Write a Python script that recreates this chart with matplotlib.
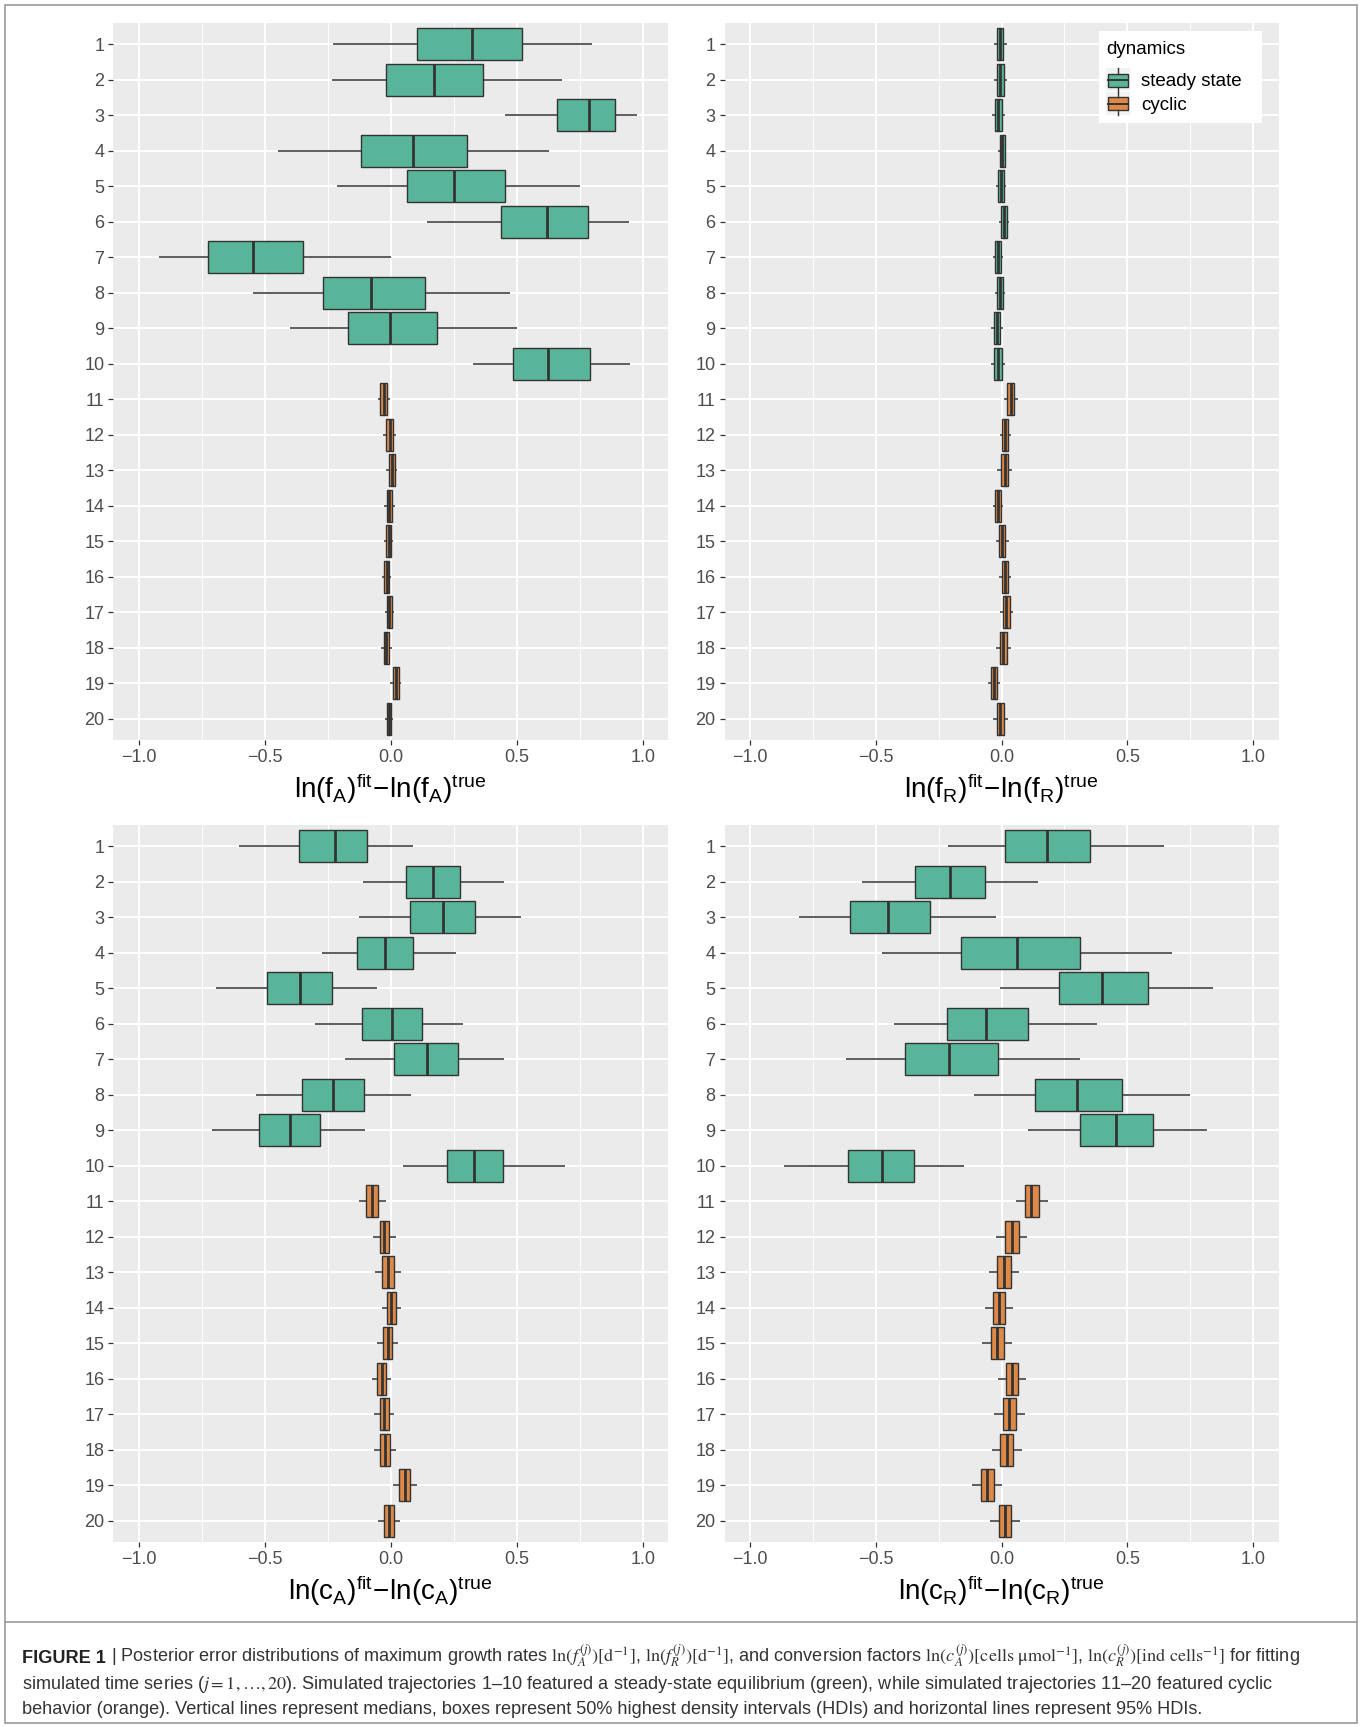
import matplotlib
matplotlib.use("Agg")
import matplotlib.pyplot as plt
from matplotlib.patches import Rectangle
from matplotlib.lines import Line2D

# ---------------- data ----------------
trajectories = list(range(1, 21))
dynamics = ["steady state"] * 10 + ["cyclic"] * 10

# panel fA
fA_med = [0.323, 0.170, 0.786, 0.090, 0.251, 0.620, -0.545, -0.078, -0.001, 0.625,
          -0.028, -0.004, 0.004, -0.005, -0.008, -0.016, -0.005, -0.017, 0.020, -0.007]
fA_q_lo = [0.103, -0.019, 0.660, -0.118, 0.064, 0.438, -0.724, -0.269, -0.168, 0.485,
           -0.041, -0.017, -0.008, -0.016, -0.017, -0.025, -0.016, -0.028, 0.008, -0.015]
fA_q_hi = [0.521, 0.365, 0.888, 0.302, 0.452, 0.784, -0.347, 0.136, 0.184, 0.790,
           -0.015, 0.009, 0.016, 0.007, 0.003, -0.005, 0.005, -0.005, 0.032, 0.003]
fA_lo = [-0.229, -0.233, 0.455, -0.446, -0.211, 0.144, -0.918, -0.547, -0.399, 0.327,
         -0.051, -0.029, -0.020, -0.026, -0.025, -0.033, -0.024, -0.040, -0.003, -0.021]
fA_hi = [0.797, 0.679, 0.977, 0.628, 0.750, 0.947, 0.001, 0.474, 0.502, 0.949,
         -0.001, 0.021, 0.026, 0.017, 0.011, 0.003, 0.013, 0.007, 0.041, 0.008]

# panel fR
fR_med = [-0.006, -0.005, -0.012, 0.003, -0.003, 0.009, -0.013, -0.006, -0.018, -0.014,
          0.037, 0.015, 0.013, -0.014, 0.002, 0.014, 0.019, 0.007, -0.031, -0.005]
fR_q_lo = [-0.018, -0.017, -0.025, -0.006, -0.014, -0.002, -0.025, -0.017, -0.031, -0.028,
           0.023, 0.003, -0.002, -0.025, -0.010, 0.002, 0.006, -0.007, -0.043, -0.018]
fR_q_hi = [0.007, 0.009, 0.001, 0.013, 0.009, 0.020, -0.002, 0.005, -0.005, 0.001,
           0.051, 0.027, 0.027, -0.002, 0.015, 0.027, 0.033, 0.022, -0.018, 0.010]
fR_lo = [-0.030, -0.028, -0.036, -0.014, -0.023, -0.011, -0.034, -0.025, -0.042, -0.042,
         0.010, -0.006, -0.017, -0.033, -0.022, -0.009, -0.006, -0.022, -0.055, -0.033]
fR_hi = [0.020, 0.022, 0.013, 0.018, 0.018, 0.030, 0.007, 0.014, 0.007, 0.015,
         0.066, 0.036, 0.042, 0.007, 0.028, 0.038, 0.045, 0.036, -0.006, 0.026]

# panel cA
cA_med = [-0.222, 0.166, 0.207, -0.024, -0.360, 0.006, 0.143, -0.230, -0.401, 0.330,
          -0.073, -0.025, -0.010, 0.003, -0.012, -0.036, -0.026, -0.022, 0.055, -0.007]
cA_q_lo = [-0.362, 0.060, 0.075, -0.132, -0.492, -0.114, 0.012, -0.353, -0.523, 0.222,
           -0.096, -0.044, -0.033, -0.015, -0.029, -0.053, -0.044, -0.042, 0.035, -0.025]
cA_q_hi = [-0.094, 0.277, 0.335, 0.087, -0.234, 0.123, 0.269, -0.105, -0.279, 0.444,
           -0.050, -0.006, 0.012, 0.021, 0.006, -0.019, -0.007, -0.004, 0.076, 0.012]
cA_lo = [-0.603, -0.111, -0.125, -0.274, -0.694, -0.299, -0.182, -0.536, -0.710, 0.050,
         -0.125, -0.069, -0.064, -0.036, -0.053, -0.075, -0.068, -0.065, 0.008, -0.050]
cA_hi = [0.089, 0.448, 0.516, 0.261, -0.054, 0.288, 0.449, 0.082, -0.101, 0.692,
         -0.019, 0.021, 0.043, 0.043, 0.028, 0.003, 0.015, 0.021, 0.103, 0.036]

# panel cR
cR_med = [0.182, -0.203, -0.450, 0.061, 0.398, -0.062, -0.208, 0.300, 0.454, -0.473,
          0.119, 0.040, 0.010, -0.010, -0.018, 0.040, 0.031, 0.021, -0.057, 0.012]
cR_q_lo = [0.012, -0.343, -0.602, -0.162, 0.229, -0.215, -0.383, 0.133, 0.312, -0.608,
           0.093, 0.014, -0.017, -0.033, -0.043, 0.017, 0.006, -0.006, -0.083, -0.011]
cR_q_hi = [0.353, -0.064, -0.285, 0.311, 0.580, 0.104, -0.012, 0.480, 0.601, -0.348,
           0.147, 0.068, 0.036, 0.014, 0.008, 0.065, 0.058, 0.046, -0.031, 0.039]
cR_lo = [-0.214, -0.554, -0.805, -0.476, -0.004, -0.426, -0.616, -0.108, 0.104, -0.863,
         0.057, -0.021, -0.051, -0.067, -0.076, -0.015, -0.031, -0.039, -0.117, -0.044]
cR_hi = [0.647, 0.143, -0.022, 0.679, 0.840, 0.378, 0.311, 0.748, 0.817, -0.149,
         0.185, 0.103, 0.069, 0.046, 0.042, 0.097, 0.093, 0.080, 0.003, 0.074]

x_ticks = [-1.0, -0.5, 0.0, 0.5, 1.0]
x_tick_labels = ["\u22121.0", "\u22120.5", "0.0", "0.5", "1.0"]
x_labels = [r"$\mathrm{ln(f_A)^{fit}\!-\!ln(f_A)^{true}}$",
            r"$\mathrm{ln(f_R)^{fit}\!-\!ln(f_R)^{true}}$",
            r"$\mathrm{ln(c_A)^{fit}\!-\!ln(c_A)^{true}}$",
            r"$\mathrm{ln(c_R)^{fit}\!-\!ln(c_R)^{true}}$"]
legend_title = "dynamics"
legend_labels = ["steady state", "cyclic"]

colors = {"steady state": "#59B59A", "cyclic": "#DE8948"}
edge = "#333333"

# ---------------- figure ----------------
W, H = 1363, 1727
plt.rcParams["font.family"] = ["Liberation Sans", "DejaVu Sans"]
plt.rcParams["mathtext.fontset"] = "custom"
plt.rcParams["mathtext.rm"] = "Liberation Sans"
plt.rcParams["mathtext.it"] = "Liberation Sans:italic"
plt.rcParams["mathtext.bf"] = "Liberation Sans:bold"

fig = plt.figure(figsize=(W / 100, H / 100), dpi=100)
fig.patch.set_facecolor("white")


def fx(x):
    return x / W


def fy(y):
    return 1 - y / H


# axes rectangles in pixel coords (left, top, right, bottom)
rects = [(113.3, 22.7, 668.0, 740.3), (724.5, 22.7, 1278.5, 740.3),
         (113.3, 824.7, 668.0, 1542.2), (724.5, 824.7, 1278.5, 1542.2)]

panels = [
    (fA_med, fA_q_lo, fA_q_hi, fA_lo, fA_hi),
    (fR_med, fR_q_lo, fR_q_hi, fR_lo, fR_hi),
    (cA_med, cA_q_lo, cA_q_hi, cA_lo, cA_hi),
    (cR_med, cR_q_lo, cR_q_hi, cR_lo, cR_hi),
]

bw = 0.9
for k, (rect, data) in enumerate(zip(rects, panels)):
    l, t, r, b = rect
    ax = fig.add_axes([fx(l), fy(b), (r - l) / W, (b - t) / H])
    ax.set_facecolor("#EBEBEB")
    for s in ax.spines.values():
        s.set_visible(False)
    ax.set_xlim(-1.1, 1.1)
    ax.set_ylim(20.6, 0.4)
    ax.set_xticks(x_ticks)
    ax.set_xticklabels(x_tick_labels)
    ax.set_xticks([-0.75, -0.25, 0.25, 0.75], minor=True)
    ax.set_yticks(trajectories)
    ax.set_yticklabels([str(v) for v in trajectories])
    ax.grid(True, which="major", color="white", linewidth=1.4, zorder=0)
    ax.grid(True, which="minor", axis="x", color="white", linewidth=0.7, zorder=0)
    ax.set_axisbelow(True)
    ax.tick_params(axis="both", which="major", direction="out", length=3.5, width=0.9,
                   color="#333333", labelcolor="#4D4D4D", labelsize=13, pad=3)
    ax.tick_params(axis="both", which="minor", length=0)

    med, qlo, qhi, lo, hi = data
    for i, y in enumerate(trajectories):
        c = colors[dynamics[i]]
        ax.plot([lo[i], qlo[i]], [y, y], color=edge, lw=1.1, zorder=2, solid_capstyle="butt")
        ax.plot([qhi[i], hi[i]], [y, y], color=edge, lw=1.1, zorder=2, solid_capstyle="butt")
        ax.add_patch(Rectangle((qlo[i], y - bw / 2), qhi[i] - qlo[i], bw,
                               facecolor=c, edgecolor=edge, linewidth=1.0, zorder=3))
        ax.plot([med[i], med[i]], [y - bw / 2, y + bw / 2], color=edge, lw=2.0,
                zorder=4, solid_capstyle="butt")

    fig.text(fx((l + r) / 2), fy(b + 58), x_labels[k], ha="center", va="baseline",
             fontsize=20, color="black")

# ---------------- legend ----------------
fig.add_artist(Rectangle((fx(1098.5), fy(122.5)), (1262 - 1098.5) / W, (122.5 - 31) / H,
                         transform=fig.transFigure, facecolor="white", edgecolor="none",
                         zorder=10))
fig.text(fx(1106), fy(54), legend_title, fontsize=13.5, color="black", va="baseline",
         zorder=11)
for j, lab in enumerate(legend_labels):
    off = j * 23.7
    bg_t, bg_b = 68.3 + off, 91.3 + off
    fig.add_artist(Rectangle((fx(1106), fy(bg_b)), 23.5 / W, 23 / H, transform=fig.transFigure,
                             facecolor="#F2F2F2", edgecolor="none", zorder=11))
    bt, bb = 73.5 + off, 86.5 + off
    fig.add_artist(Rectangle((fx(1108), fy(bb)), 19.5 / W, 13 / H, transform=fig.transFigure,
                             facecolor=colors[lab], edgecolor=edge, linewidth=1.0, zorder=12))
    fig.add_artist(Line2D([fx(1108), fx(1127.5)], [fy(80 + off), fy(80 + off)],
                          transform=fig.transFigure, color=edge, lw=1.4, zorder=13))
    fig.add_artist(Line2D([fx(1117.7), fx(1117.7)], [fy(bg_t), fy(bt)],
                          transform=fig.transFigure, color=edge, lw=1.0, zorder=13))
    fig.add_artist(Line2D([fx(1117.7), fx(1117.7)], [fy(bb), fy(bg_b)],
                          transform=fig.transFigure, color=edge, lw=1.0, zorder=13))
    fig.text(fx(1141), fy(86 + off), lab, fontsize=13.5, color="black", va="baseline",
             zorder=13)

# ---------------- frame & caption ----------------
frame_col = "#9A9A9A"
fig.add_artist(Rectangle((fx(4.5), fy(1723)), (1357 - 4.5) / W, (1723 - 4.5) / H,
                         transform=fig.transFigure, facecolor="none", edgecolor=frame_col,
                         linewidth=1.2))
fig.add_artist(Line2D([fx(4.5), fx(1357)], [fy(1622), fy(1622)], transform=fig.transFigure,
                      color=frame_col, lw=1.2))

cap_col = "#333333"
cap_size = 13.1
line1 = (r" | Posterior error distributions of maximum growth rates "
         r"$\ln(f_A^{(j)})[\mathrm{d}^{-1}]$, $\ln(f_R^{(j)})[\mathrm{d}^{-1}]$, and conversion factors "
         r"$\ln(c_A^{(j)})[\mathrm{cells}\ \mathrm{\mu mol}^{-1}]$, "
         r"$\ln(c_R^{(j)})[\mathrm{ind\ cells}^{-1}]$ for fitting")
line2 = ("simulated time series ($j=1,\\ldots,20$). Simulated trajectories 1\u201310 featured a "
         "steady-state equilibrium (green), while simulated trajectories 11\u201320 featured cyclic")
line3 = ("behavior (orange). Vertical lines represent medians, boxes represent 50% highest "
         "density intervals (HDIs) and horizontal lines represent 95% HDIs.")

renderer = fig.canvas.get_renderer()
t0 = fig.text(fx(22), fy(1663), "FIGURE 1", fontsize=cap_size, fontweight="bold",
              color="#222222", va="baseline")
bb0 = t0.get_window_extent(renderer)
fig.text(bb0.x1 / W, fy(1663), line1, fontsize=cap_size, color=cap_col, va="baseline",
         math_fontfamily="stix")
fig.text(fx(22), fy(1689), line2, fontsize=cap_size, color=cap_col, va="baseline",
         math_fontfamily="stix")
fig.text(fx(22), fy(1714), line3, fontsize=cap_size, color=cap_col, va="baseline")

fig.savefig("out.png", dpi=100)
